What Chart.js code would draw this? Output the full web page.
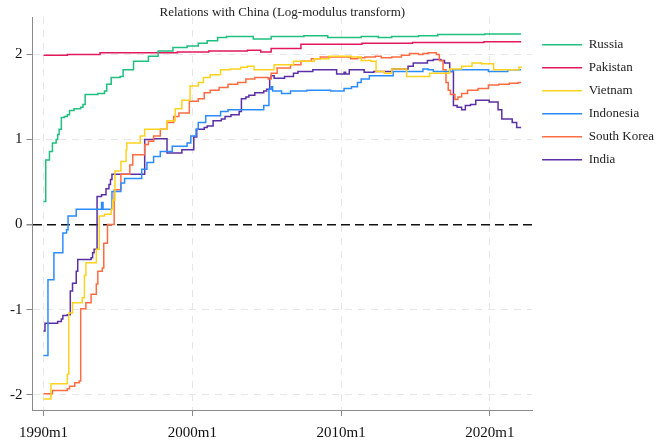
<!DOCTYPE html>
<html>
<head>
<meta charset="utf-8">
<script src="https://cdn.jsdelivr.net/npm/chart.js@4/dist/chart.umd.min.js"></script>
<style>
  html, body { margin: 0; padding: 0; background: #fff; }
  #wrap { width: 658px; height: 440px; }
</style>
</head>
<body>
<div id="wrap"><canvas id="relChart"></canvas></div>
<script>
// tick positions (year) and their labels
const tickYears = [1990, 2000, 2010, 2020];
const tickLabels = ["1990m1", "2000m1", "2010m1", "2020m1"];
const yTicks = [-2, -1, 0, 1, 2];

// series: year at which each new level starts, and the level
const russiaYears = [1990.0, 1990.15, 1990.4, 1990.6, 1990.85, 1990.95, 1991.05, 1991.2, 1991.4, 1991.6, 1991.75, 1992.05, 1992.5, 1992.65, 1992.8, 1993.65, 1994.1, 1994.25, 1994.55, 1995.15, 1995.35, 1996.05, 1997.05, 1997.7, 1998.7, 1999.65, 2000.4, 2001.0, 2001.7, 2002.3, 2004.1, 2005.3, 2007.5, 2009.1, 2011.35, 2012.5, 2013.4, 2015.2, 2016.5, 2019.65, 2022.1];
const russiaValues = [0.27, 0.76, 0.86, 0.96, 1.0, 1.06, 1.12, 1.26, 1.27, 1.29, 1.34, 1.36, 1.38, 1.41, 1.53, 1.54, 1.57, 1.65, 1.73, 1.74, 1.82, 1.92, 1.98, 2.04, 2.08, 2.10, 2.13, 2.16, 2.20, 2.21, 2.18, 2.21, 2.22, 2.20, 2.21, 2.20, 2.21, 2.22, 2.235, 2.24, 2.24];

const pakistanYears = [1990.0, 1991.6, 1993.8, 1999.0, 2001.1, 2003.7, 2004.6, 2005.3, 2007.3, 2011.4, 2014.8, 2019.6, 2022.1];
const pakistanValues = [1.99, 2.0, 2.02, 2.03, 2.04, 2.05, 2.03, 2.07, 2.12, 2.13, 2.14, 2.15, 2.15];

const vietnamYears = [1990.0, 1990.5, 1991.6, 1991.7, 1991.95, 1992.6, 1992.75, 1992.85, 1993.55, 1993.75, 1994.1, 1994.55, 1994.65, 1994.8, 1995.2, 1995.55, 1995.6, 1996.5, 1996.8, 1998.3, 1998.85, 1999.3, 1999.85, 2000.4, 2000.75, 2001.2, 2001.9, 2002.55, 2003.25, 2003.7, 2004.15, 2005.5, 2006.8, 2008.2, 2009.2, 2010.7, 2011.35, 2012.0, 2012.35, 2012.9, 2013.4, 2014.4, 2015.95, 2017.3, 2018.1, 2018.8, 2019.45, 2020.25, 2021.95, 2022.1];
const vietnamValues = [-2.05, -1.87, -1.76, -1.04, -0.92, -0.86, -0.6, -0.45, -0.29, 0.1, 0.12, 0.18, 0.29, 0.63, 0.74, 0.88, 0.96, 1.04, 1.12, 1.22, 1.36, 1.46, 1.63, 1.67, 1.73, 1.76, 1.82, 1.83, 1.85, 1.86, 1.82, 1.88, 1.92, 1.95, 1.98, 1.97, 1.93, 1.92, 1.80, 1.78, 1.83, 1.74, 1.78, 1.83, 1.86, 1.90, 1.89, 1.82, 1.85, 1.84];

const indonesiaYears = [1990.0, 1990.3, 1990.7, 1991.3, 1991.55, 1991.65, 1992.2, 1993.9, 1994.0, 1994.6, 1995.2, 1995.45, 1996.6, 1996.95, 1997.4, 1997.85, 1998.65, 1999.65, 1999.9, 2000.25, 2000.4, 2000.9, 2001.9, 2002.4, 2004.8, 2005.15, 2005.3, 2005.4, 2006.0, 2006.6, 2007.7, 2009.3, 2010.2, 2010.7, 2011.1, 2011.35, 2011.9, 2013.5, 2015.5, 2015.85, 2016.2, 2017.5, 2019.9, 2021.2, 2022.1];
const indonesiaValues = [-1.54, -0.65, -0.33, -0.1, -0.06, 0.1, 0.18, 0.26, 0.18, 0.39, 0.49, 0.54, 0.65, 0.73, 0.80, 0.86, 0.92, 0.96, 1.04, 1.12, 1.2, 1.28, 1.33, 1.35, 1.40, 1.59, 1.62, 1.57, 1.54, 1.57, 1.58, 1.57, 1.60, 1.62, 1.67, 1.71, 1.75, 1.80, 1.83, 1.82, 1.80, 1.82, 1.80, 1.82, 1.82];

const koreaYears = [1990.0, 1990.6, 1991.6, 1991.75, 1992.1, 1992.4, 1992.5, 1992.85, 1993.2, 1993.55, 1993.65, 1993.95, 1994.05, 1994.3, 1994.75, 1995.2, 1995.8, 1996.0, 1996.8, 1997.05, 1997.4, 1997.85, 1998.3, 1998.75, 1999.1, 1999.8, 2000.4, 2000.8, 2001.2, 2001.8, 2002.4, 2003.05, 2003.6, 2004.2, 2005.1, 2005.3, 2005.7, 2006.6, 2007.3, 2008.0, 2008.6, 2010.65, 2011.1, 2011.6, 2012.3, 2012.7, 2013.4, 2014.05, 2014.6, 2015.2, 2015.5, 2015.85, 2016.4, 2016.6, 2016.85, 2017.05, 2017.2, 2017.35, 2017.65, 2017.85, 2018.1, 2018.5, 2019.2, 2019.9, 2020.6, 2021.3, 2021.9, 2022.1];
const koreaValues = [-1.99, -1.95, -1.93, -1.90, -1.86, -1.84, -0.99, -0.92, -0.82, -0.70, -0.55, -0.51, -0.22, 0.0, 0.41, 0.59, 0.70, 0.82, 0.94, 0.98, 1.04, 1.12, 1.2, 1.27, 1.31, 1.45, 1.48, 1.55, 1.58, 1.61, 1.65, 1.67, 1.71, 1.73, 1.71, 1.78, 1.84, 1.88, 1.92, 1.95, 1.97, 1.95, 1.96, 1.97, 1.98, 1.96, 1.97, 1.99, 2.01, 2.0, 2.01, 2.02, 2.0, 1.93, 1.82, 1.67, 1.58, 1.53, 1.47, 1.50, 1.54, 1.58, 1.60, 1.64, 1.65, 1.66, 1.67, 1.67];

const indiaYears = [1990.0, 1990.1, 1990.95, 1991.2, 1991.3, 1991.6, 1991.8, 1991.95, 1992.2, 1992.3, 1993.2, 1993.3, 1993.4, 1993.6, 1993.9, 1994.2, 1994.4, 1994.5, 1994.6, 1996.8, 1997.4, 1998.3, 1999.3, 2000.1, 2000.3, 2000.8, 2001.0, 2001.4, 2001.95, 2002.2, 2002.6, 2003.15, 2003.3, 2003.6, 2003.8, 2004.2, 2004.8, 2005.0, 2005.2, 2005.3, 2005.5, 2006.2, 2006.8, 2007.1, 2008.1, 2009.7, 2010.2, 2010.3, 2010.55, 2011.55, 2012.2, 2013.4, 2014.5, 2014.85, 2015.8, 2016.2, 2016.7, 2016.95, 2017.3, 2017.55, 2017.8, 2018.1, 2018.35, 2018.7, 2019.05, 2019.95, 2020.55, 2020.8, 2021.5, 2021.8, 2022.1];
const indiaValues = [-1.25, -1.16, -1.14, -1.11, -1.07, -1.06, -0.78, -0.69, -0.55, -0.41, -0.39, -0.33, -0.29, 0.33, 0.35, 0.42, 0.47, 0.53, 0.59, 1.0, 1.01, 0.84, 0.88, 1.03, 1.12, 1.14, 1.16, 1.22, 1.24, 1.27, 1.29, 1.33, 1.48, 1.50, 1.52, 1.55, 1.57, 1.59, 1.72, 1.75, 1.72, 1.74, 1.78, 1.80, 1.82, 1.77, 1.79, 1.77, 1.82, 1.79, 1.80, 1.83, 1.86, 1.90, 1.93, 1.94, 1.93, 1.90, 1.80, 1.40, 1.38, 1.35, 1.40, 1.41, 1.46, 1.44, 1.35, 1.24, 1.2, 1.14, 1.14];

const colors = {
  russia: "#1fbf7f",
  pakistan: "#e3195b",
  vietnam: "#ffd21f",
  indonesia: "#2b8cff",
  korea: "#ff6c42",
  india: "#5b2fa5",
  axis: "#8a8a8a",
  grid: "#e6e6e6",
};

const serif = "'Liberation Serif', 'DejaVu Serif', serif";
Chart.defaults.font.family = serif;
Chart.defaults.color = "#111";

function series(label, xs, ys, color) {
  return {
    label,
    data: xs.map((x, i) => ({ x, y: ys[i] })),
    borderColor: color,
    backgroundColor: color,
    borderWidth: 1.5,
    pointRadius: 0,
    stepped: true,
    fill: false,
  };
}

new Chart(document.getElementById("relChart").getContext("2d"), {
  type: "line",
  data: {
    datasets: [
      series("Russia", russiaYears, russiaValues, colors.russia),
      series("Pakistan", pakistanYears, pakistanValues, colors.pakistan),
      series("Vietnam", vietnamYears, vietnamValues, colors.vietnam),
      series("Indonesia", indonesiaYears, indonesiaValues, colors.indonesia),
      series("South Korea", koreaYears, koreaValues, colors.korea),
      series("India", indiaYears, indiaValues, colors.india),
    ],
  },
  options: {
    responsive: true,
    maintainAspectRatio: false,
    animation: false,
    layout: { padding: { left: 6, right: -6, top: 0, bottom: -10 } },
    plugins: {
      title: {
        display: true,
        text: "Relations with China (Log-modulus transform)",
        fullSize: false,
        font: { size: 13, weight: "normal" },
        color: "#222",
        padding: { top: 5, bottom: -3.6 },
      },
      legend: {
        position: "right",
        align: "start",
        fullSize: false,
        title: { display: true, text: " ", padding: 2, font: { size: 6 } },
        labels: {
          usePointStyle: true,
          pointStyle: "line",
          pointStyleWidth: 40,
          padding: 10,
          font: { size: 13 },
          color: "#222",
        },
      },
      tooltip: { enabled: false },
    },
    scales: {
      x: {
        type: "linear",
        min: 1989.26,
        max: 2022.84,
        afterBuildTicks: (axis) => { axis.ticks = tickYears.map((v) => ({ value: v })); },
        ticks: {
          font: { size: 15 },
          color: "#111",
          padding: 8,
          maxRotation: 0,
          callback: (v) => tickLabels[tickYears.indexOf(v)],
        },
        grid: {
          color: colors.grid,
          lineWidth: 1,
          tickLength: 6,
          tickColor: colors.axis,
        },
        border: { display: true, color: colors.axis, width: 1, dash: [7, 6] },
      },
      y: {
        type: "linear",
        min: -2.18,
        max: 2.44,
        afterBuildTicks: (axis) => { axis.ticks = yTicks.map((v) => ({ value: v })); },
        ticks: {
          font: { size: 15 },
          color: "#111",
          padding: 4,
          callback: (v) => String(v),
        },
        grid: {
          color: (ctx) => (ctx.tick && ctx.tick.value === 0 ? "#111" : colors.grid),
          lineWidth: (ctx) => (ctx.tick && ctx.tick.value === 0 ? 1.5 : 1),
          tickLength: 6,
          tickColor: colors.axis,
        },
        border: {
          display: true,
          color: colors.axis,
          width: 1,
          dash: (ctx) => (ctx.tick && ctx.tick.value === 0 ? [9, 5] : [7, 6]),
        },
      },
    },
  },
});
</script>
</body>
</html>
